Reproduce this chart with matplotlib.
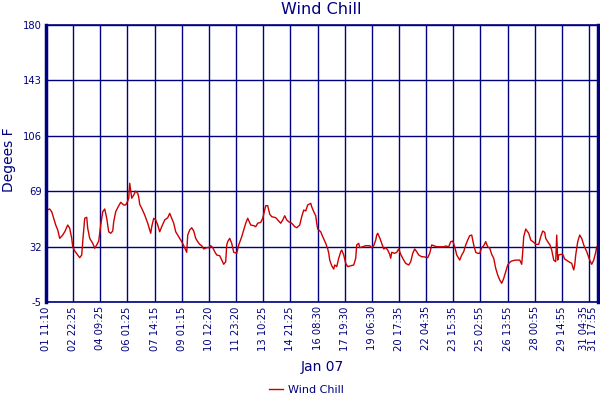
import numpy as np
import matplotlib
matplotlib.use("Agg")
import matplotlib.pyplot as plt

# Sample index (readings) and wind chill values (deg F)
sample = [1, 4, 6, 8, 10, 12, 14, 17, 19, 22, 24, 26, 27, 29, 32, 34, 36, 37, 39, 41,
          42, 44, 47, 49, 51, 53, 55, 57, 59, 61, 63, 65, 67, 68, 70, 72, 75, 78, 80, 82,
          83, 84, 86, 88, 90, 92, 93, 94, 96, 99, 102, 104, 105, 106, 108, 110, 112, 114, 116, 119,
          122, 124, 126, 128, 130, 132, 134, 136, 138, 140, 141, 142, 144, 146, 148, 150, 152, 154, 156, 158,
          161, 163, 165, 167, 169, 171, 174, 176, 178, 180, 181, 182, 184, 186, 188, 191, 193, 196, 198, 200,
          202, 205, 208, 210, 212, 215, 217, 219, 220, 222, 224, 226, 230, 232, 235, 237, 239, 241, 243, 246,
          249, 251, 254, 256, 258, 260, 262, 265, 266, 268, 270, 271, 272, 275, 277, 280, 282, 283, 284, 286,
          288, 289, 291, 293, 295, 296, 298, 300, 302, 305, 308, 310, 311, 313, 314, 317, 320, 324, 326, 328,
          330, 331, 332, 334, 336, 338, 340, 342, 344, 345, 346, 349, 351, 353, 355, 358, 360, 363, 365, 367,
          369, 371, 373, 376, 378, 382, 384, 386, 388, 391, 394, 398, 400, 403, 405, 407, 409, 411, 414, 416,
          418, 420, 422, 424, 426, 428, 430, 432, 434, 436, 438, 440, 442, 444, 446, 448, 450, 452, 454, 456,
          458, 460, 462, 464, 466, 470, 474, 476, 477, 478, 480, 483, 485, 488, 490, 493, 495, 497, 499, 500,
          503, 504, 506, 508, 510, 511, 512, 513, 515, 517, 519, 522, 524, 526, 528, 529, 530, 532, 534, 536,
          538, 541, 544, 546, 548, 550, 551, 552]
wind_chill = [56.4, 57.1, 55.3, 50.9, 46.4, 43.1, 37.5, 39.7, 41.9, 46.4, 44.2, 37.5, 31.9, 29.1, 26.4, 24.6, 26.4, 35.3, 50.9, 51.6,
              44.2, 37.5, 34.2, 30.9, 33.1, 35.7, 46.4, 55.3, 57.1, 50.9, 41.9, 40.9, 42.4, 48.6, 55.3, 58.0, 61.6, 59.8, 59.8, 62.4,
              64.3, 74.3, 64.3, 66.5, 69.1, 67.6, 65.1, 60.2, 57.6, 53.1, 47.6, 43.1, 40.9, 45.3, 50.9, 49.8, 46.4, 41.9, 45.3, 49.8,
              51.3, 54.2, 50.9, 47.6, 41.9, 39.7, 37.5, 35.3, 32.6, 29.7, 28.2, 39.7, 43.1, 44.6, 42.4, 37.5, 35.3, 33.5, 32.6, 30.4,
              31.3, 31.3, 32.6, 31.3, 28.6, 26.4, 25.9, 23.0, 20.2, 21.9, 33.1, 35.3, 37.5, 34.2, 28.2, 27.5, 33.1, 38.6, 43.1, 47.6,
              50.9, 46.4, 46.0, 45.3, 47.6, 48.2, 50.9, 56.4, 59.3, 59.3, 53.6, 52.0, 51.3, 49.8, 47.6, 49.8, 52.6, 49.8, 48.6, 47.6,
              45.3, 44.6, 46.4, 52.0, 56.4, 55.8, 59.8, 60.9, 58.6, 55.3, 52.6, 47.6, 43.7, 41.9, 38.6, 34.2, 30.4, 27.7, 23.0, 19.2,
              17.0, 19.7, 18.6, 24.2, 28.6, 29.7, 26.4, 20.8, 18.6, 19.2, 19.7, 24.2, 33.1, 34.2, 31.3, 31.9, 32.6, 32.6, 31.3, 32.6,
              36.4, 39.7, 40.9, 37.9, 34.2, 30.4, 31.3, 29.7, 26.8, 24.2, 28.2, 27.5, 28.2, 30.4, 26.8, 23.0, 20.8, 19.7, 21.9, 27.5,
              30.4, 28.6, 26.4, 25.2, 25.2, 24.6, 27.5, 33.1, 32.6, 31.9, 31.9, 31.9, 32.4, 31.9, 35.3, 35.7, 31.9, 26.4, 23.0, 26.4,
              28.6, 33.1, 36.4, 39.3, 39.7, 33.1, 28.2, 27.5, 27.5, 31.3, 32.6, 35.3, 31.9, 30.9, 26.8, 24.2, 17.5, 13.0, 9.7, 7.5,
              10.8, 15.2, 19.7, 21.5, 22.4, 23.0, 23.0, 20.2, 28.6, 38.6, 43.7, 40.9, 36.4, 34.9, 33.5, 33.5, 38.6, 42.4, 41.5, 37.5,
              34.2, 33.5, 29.7, 23.0, 21.9, 39.7, 23.0, 26.4, 26.8, 26.8, 23.7, 22.4, 21.5, 20.8, 16.4, 19.7, 26.4, 35.3, 39.7, 37.5,
              33.1, 28.6, 23.0, 20.2, 23.0, 28.2, 31.9, 29.7]

tick_labels = ["01 11:10", "02 22:25", "04 09:25", "06 01:25", "07 14:15", "09 01:15",
               "10 12:20", "11 23:20", "13 10:25", "14 21:25", "16 08:30", "17 19:30",
               "19 06:30", "20 17:35", "22 04:35", "23 15:35", "25 02:55", "26 13:55",
               "28 00:55", "29 14:55", "31 04:35", "31 17:55"]
tick_pos = [0, 27, 54, 81, 109, 136, 163, 190, 217, 244, 272, 299, 326, 353,
            380, 407, 434, 462, 489, 516, 543, 552]
y_ticks = [-5, 32, 69, 106, 143, 180]

navy = "#000080"
fig = plt.figure(figsize=(6, 4), dpi=100)
ax = fig.add_axes([0.0762, 0.245, 0.92, 0.6925])
ax.plot(sample, wind_chill, color="#cc0000", lw=1.0, label="Wind Chill")
ax.set_xlim(0, 552)
ax.set_ylim(-5, 180)
ax.set_yticks(y_ticks)
ax.set_yticklabels([str(v) for v in y_ticks])
ax.set_xticks(tick_pos)
ax.set_xticklabels(tick_labels, rotation=90)
ax.grid(True, color=navy, lw=1.0)
ax.set_axisbelow(True)
ax.tick_params(length=0, colors=navy, labelsize=7.2, pad=3)
xl = ax.get_xticklabels()
xl[-2].set_horizontalalignment("right")
xl[-1].set_horizontalalignment("right")
for side in ["left", "right"]:
    ax.spines[side].set_color(navy)
    ax.spines[side].set_linewidth(2.5)
for side in ["top", "bottom"]:
    ax.spines[side].set_color(navy)
    ax.spines[side].set_linewidth(1.2)

fig.text(0.535, 0.975, "Wind Chill", color=navy, fontsize=11.5, ha="center", va="center")
fig.text(0.015, 0.6, "Degees F", color=navy, fontsize=10, rotation=90, ha="center", va="center")
fig.text(0.537, 0.083, "Jan 07", color=navy, fontsize=10, ha="center", va="center")
leg = fig.legend(loc="center", bbox_to_anchor=(0.51, 0.025), frameon=False,
                 fontsize=8, handlelength=1.3, handletextpad=0.4, labelcolor=navy)

fig.savefig("out.png", dpi=100)
